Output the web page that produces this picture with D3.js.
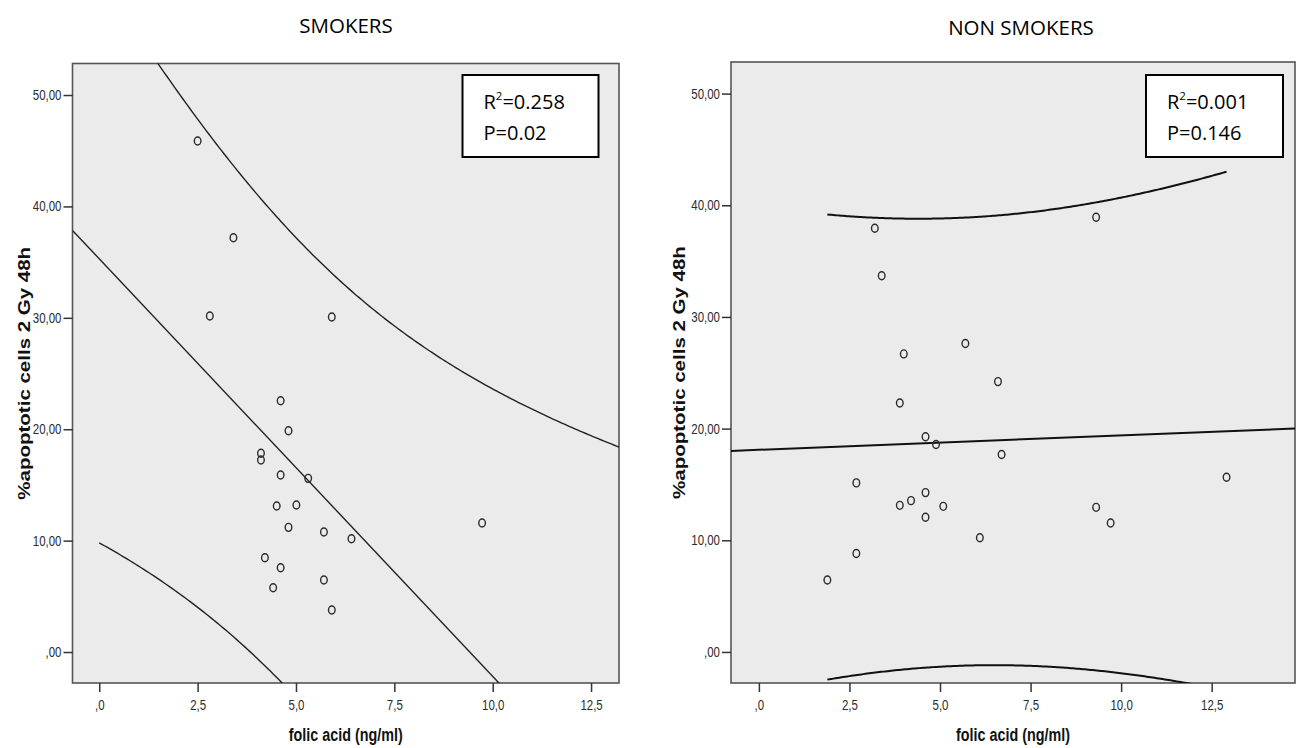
<!DOCTYPE html>
<html>
<head>
<meta charset="utf-8">
<script src="https://cdn.jsdelivr.net/npm/d3@7"></script>
<style>
  html, body { margin: 0; padding: 0; background: #fff; }
  svg { display: block; }
</style>
</head>
<body>
<svg id="chart" width="1296" height="748"></svg>
<script>
/* folic acid vs apoptotic cells, smokers / non smokers, SPSS-style scatter with fit */
"use strict";

const X_TICKS = [0, 2.5, 5, 7.5, 10, 12.5];
const Y_TICKS = [0, 10, 20, 30, 40, 50];
const X_TITLE = "folic acid (ng/ml)";
const Y_TITLE = "%apoptotic cells 2 Gy 48h";

const SMOKERS_FOLIC = [2.50, 3.41, 2.81, 5.91, 4.61, 4.81, 4.11, 4.11, 4.61, 5.31, 4.51,
  5.01, 4.81, 5.71, 6.41, 9.73, 4.21, 4.61, 4.42, 5.71, 5.91];
const SMOKERS_APOP = [45.87, 37.19, 30.16, 30.07, 22.56, 19.87, 17.84, 17.24, 15.89, 15.59, 13.11,
  13.20, 11.19, 10.77, 10.17, 11.58, 8.46, 7.57, 5.77, 6.46, 3.77];
const SMOKERS_STATS = ["0.258", "0.02"];

const NONSMOKERS_FOLIC = [3.20, 3.39, 9.31, 4.00, 5.70, 6.60, 3.89, 4.60, 4.89, 6.70, 2.69,
  12.91, 4.60, 4.20, 3.89, 5.09, 4.60, 9.31, 9.71, 6.10, 2.69, 1.89];
const NONSMOKERS_APOP = [37.94, 33.69, 38.93, 26.69, 27.62, 24.21, 22.29, 19.27, 18.58, 17.68, 15.14,
  15.65, 14.27, 13.55, 13.13, 13.04, 12.06, 12.95, 11.55, 10.23, 8.82, 6.44];
const NONSMOKERS_STATS = ["0.001", "0.146"];

/* two-sided 95% t quantiles by degrees of freedom */
const T975 = { 18: 2.101, 19: 2.093, 20: 2.086, 21: 2.080, 22: 2.074, 23: 2.069 };

const SPSS_FONT = "'Liberation Sans', Arial, sans-serif";
const NOTE_FONT = "'Open Sans', 'Noto Sans', sans-serif";
const SQUISH = 0.82; // the SPSS export is squeezed horizontally

const panels = [
  {
    title: "SMOKERS", xs: SMOKERS_FOLIC, ys: SMOKERS_APOP, stats: SMOKERS_STATS,
    box: { left: 72.5, right: 619, top: 63.5, bottom: 683 },
    xDomain: [-0.68, 13.21], bandFromZero: true,
    titleX: 346, titleY: 33, yTitleX: 23,
    legend: { x: 462.5, y: 75, w: 136, h: 82 },
    lineWidth: 1.4, lineColor: "#222",
  },
  {
    title: "NON SMOKERS", xs: NONSMOKERS_FOLIC, ys: NONSMOKERS_APOP, stats: NONSMOKERS_STATS,
    box: { left: 731, right: 1295, top: 62, bottom: 683 },
    xDomain: [-0.77, 14.8], bandFromZero: false,
    titleX: 1021, titleY: 35, yTitleX: 678,
    legend: { x: 1146, y: 75, w: 137, h: 82 },
    lineWidth: 2, lineColor: "#111",
  },
];

const svg = d3.select("#chart");

function spssNum(v, digits) {
  const s = v.toFixed(digits).replace(".", ",");
  return s.startsWith("0,") ? s.slice(1) : s;
}

function fit(xs, ys) {
  const n = xs.length;
  const mx = d3.mean(xs);
  const my = d3.mean(ys);
  let sxx = 0, sxy = 0, syy = 0;
  xs.forEach((x, i) => {
    sxx += (x - mx) ** 2;
    sxy += (x - mx) * (ys[i] - my);
    syy += (ys[i] - my) ** 2;
  });
  const b = sxy / sxx;
  const a = my - b * mx;
  const s = Math.sqrt((syy - b * sxy) / (n - 2));
  const t = T975[n - 2];
  return {
    predict: (x) => a + b * x,
    half: (x) => t * s * Math.sqrt(1 + 1 / n + (x - mx) ** 2 / sxx),
  };
}

panels.forEach((p, idx) => {
  const x = d3.scaleLinear(p.xDomain, [p.box.left, p.box.right]);
  const y = d3.scaleLinear([-2.78, 52.83], [p.box.bottom, p.box.top]);
  const g = svg.append("g");

  /* plot frame */
  g.append("rect")
    .attr("x", p.box.left).attr("y", p.box.top)
    .attr("width", p.box.right - p.box.left).attr("height", p.box.bottom - p.box.top)
    .attr("fill", "#ebebeb").attr("stroke", "#555").attr("stroke-width", 1.6);

  g.append("clipPath").attr("id", `clip${idx}`)
    .append("rect")
    .attr("x", p.box.left).attr("y", p.box.top)
    .attr("width", p.box.right - p.box.left).attr("height", p.box.bottom - p.box.top);

  /* axes: ticks only, frame is the axis line */
  const yAxis = g.append("g")
    .attr("transform", `translate(${p.box.left},0)`)
    .call(d3.axisLeft(y).tickValues(Y_TICKS).tickSize(9).tickPadding(2).tickFormat((d) => spssNum(d, 2)));
  const xAxis = g.append("g")
    .attr("transform", `translate(0,${p.box.bottom})`)
    .call(d3.axisBottom(x).tickValues(X_TICKS).tickSize(9).tickPadding(8).tickFormat((d) => spssNum(d, 1)));

  [yAxis, xAxis].forEach((ax) => {
    ax.select(".domain").remove();
    ax.selectAll("line").attr("stroke", "#333").attr("stroke-width", 1.5);
    ax.selectAll("text")
      .attr("fill", "#2b2b2b")
      .style("font-family", SPSS_FONT)
      .style("font-size", "14px");
  });
  yAxis.selectAll(".tick text").attr("transform", `scale(${SQUISH},1)`).attr("x", -11 / SQUISH);
  xAxis.selectAll(".tick text").attr("transform", `scale(${SQUISH},1)`);

  /* axis titles */
  const cx = (p.box.left + p.box.right) / 2;
  const cy = (p.box.top + p.box.bottom) / 2;
  g.append("text")
    .attr("transform", `translate(${cx},741) scale(${SQUISH},1)`)
    .attr("text-anchor", "middle")
    .style("font-family", SPSS_FONT).style("font-weight", "bold").style("font-size", "17.5px")
    .attr("fill", "#111")
    .text(X_TITLE);
  g.append("text")
    .attr("transform", `translate(${p.yTitleX + 7},${cy}) rotate(-90) scale(1,${SQUISH})`)
    .attr("text-anchor", "middle")
    .style("font-family", SPSS_FONT).style("font-weight", "bold").style("font-size", "20.5px")
    .attr("fill", "#111")
    .text(Y_TITLE);

  /* fit line and 95% prediction band */
  const model = fit(p.xs, p.ys);
  const plot = g.append("g").attr("clip-path", `url(#clip${idx})`);
  const line = d3.line().x((d) => x(d[0])).y((d) => y(d[1]));

  plot.append("path")
    .attr("d", line(p.xDomain.map((v) => [v, model.predict(v)])))
    .attr("fill", "none").attr("stroke", p.lineColor).attr("stroke-width", p.lineWidth);

  const bandExtent = p.bandFromZero ? [0, p.xDomain[1]] : d3.extent(p.xs);
  const samples = d3.range(0, 201).map((i) => bandExtent[0] + (bandExtent[1] - bandExtent[0]) * i / 200);
  [1, -1].forEach((sign) => {
    plot.append("path")
      .attr("d", line(samples.map((v) => [v, model.predict(v) + sign * model.half(v)])))
      .attr("fill", "none").attr("stroke", p.lineColor).attr("stroke-width", p.lineWidth);
  });

  /* points */
  plot.selectAll("ellipse")
    .data(p.xs.map((v, i) => [v, p.ys[i]]))
    .join("ellipse")
    .attr("cx", (d) => x(d[0])).attr("cy", (d) => y(d[1]))
    .attr("rx", 3.3).attr("ry", 4)
    .attr("fill", "none").attr("stroke", "#2b2b2b").attr("stroke-width", 1.4);

  /* legend box */
  const L = p.legend;
  g.append("rect")
    .attr("x", L.x).attr("y", L.y).attr("width", L.w).attr("height", L.h)
    .attr("fill", "#fff").attr("stroke", "#000").attr("stroke-width", 2);
  const r2 = g.append("text")
    .attr("x", L.x + 21).attr("y", L.y + 34)
    .style("font-family", NOTE_FONT).style("font-size", "20px").attr("fill", "#000");
  r2.append("tspan").text("R");
  r2.append("tspan").attr("dy", -9).style("font-size", "11.5px").text("2");
  r2.append("tspan").attr("dy", 9).text(`=${p.stats[0]}`);
  g.append("text")
    .attr("x", L.x + 21).attr("y", L.y + 65)
    .style("font-family", NOTE_FONT).style("font-size", "20px").attr("fill", "#000")
    .text(`P=${p.stats[1]}`);

  /* panel title */
  g.append("text")
    .attr("x", p.titleX).attr("y", p.titleY)
    .attr("text-anchor", "middle")
    .style("font-family", NOTE_FONT).style("font-size", "20.5px").attr("fill", "#000")
    .text(p.title);
});
</script>
</body>
</html>
